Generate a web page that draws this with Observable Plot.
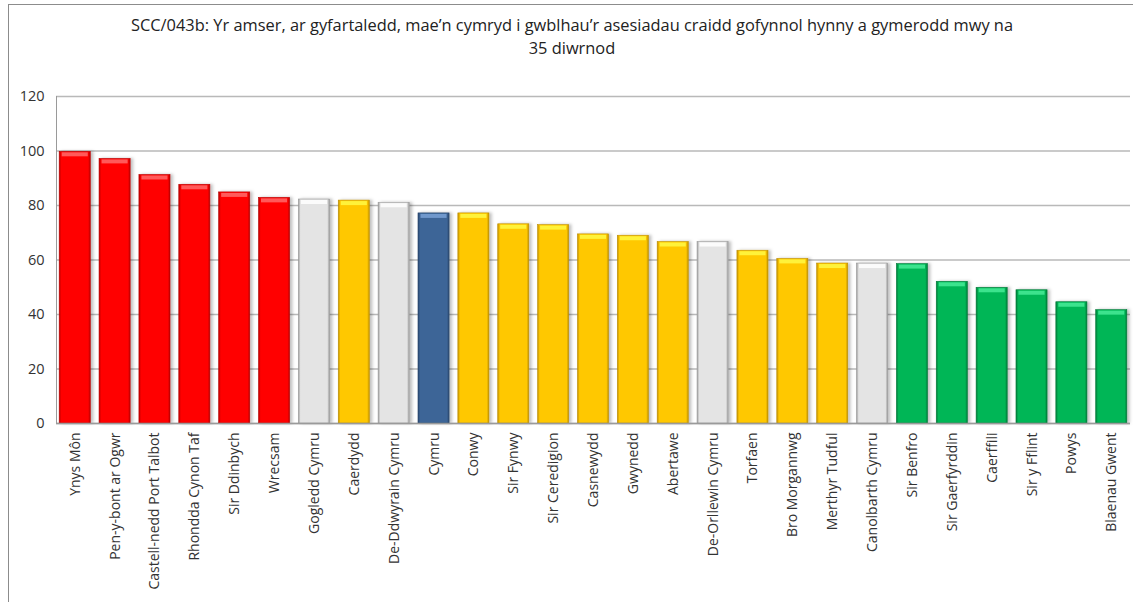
<!DOCTYPE html>
<html>
<head>
<meta charset="utf-8">
<script src="https://cdn.jsdelivr.net/npm/d3@7"></script>
<script src="https://cdn.jsdelivr.net/npm/@observablehq/plot@0.6"></script>
<style>
  html, body { margin: 0; padding: 0; background: #fff; overflow: hidden; }
  #wrap { position: relative; width: 1133px; height: 602px; }
  #frame { position: absolute; left: 8px; top: 4px; width: 1140px; height: 640px; border: 1px solid #8c8c8c; box-sizing: border-box; }
  #title { position: absolute; left: 0px; width: 1144px; top: 13px; text-align: center; font-family: "Open Sans", sans-serif; font-size: 16.4px; line-height: 23px; color: #222; white-space: nowrap; }
  #chart { position: absolute; left: 0; top: 0; }
</style>
</head>
<body>
<div id="wrap">
  <div id="frame"></div>
  <div id="title">SCC/043b: Yr amser, ar gyfartaledd, mae’n cymryd i gwblhau’r asesiadau craidd gofynnol hynny a gymerodd mwy na<br>35 diwrnod</div>
  <div id="chart"></div>
</div>
<script>
const categories = [
  "Ynys Môn", "Pen-y-bont ar Ogwr", "Castell-nedd Port Talbot", "Rhondda Cynon Taf",
  "Sir Ddinbych", "Wrecsam", "Gogledd Cymru", "Caerdydd", "De-Ddwyrain Cymru", "Cymru",
  "Conwy", "Sir Fynwy", "Sir Ceredigion", "Casnewydd", "Gwynedd", "Abertawe",
  "De-Orllewin Cymru", "Torfaen", "Bro Morgannwg", "Merthyr Tudful", "Canolbarth Cymru",
  "Sir Benfro", "Sir Gaerfyrddin", "Caerffili", "Sir y Fflint", "Powys", "Blaenau Gwent"
];
const values = [
  99.7, 97.1, 91.2, 87.6, 84.8, 82.8, 82.2, 81.8, 81.0, 77.1,
  77.1, 73.1, 72.8, 69.4, 68.9, 66.6, 66.6, 63.4, 60.4, 58.7,
  58.7, 58.5, 52.0, 49.8, 48.9, 44.5, 41.6
];
const groups = [
  "uchaf", "uchaf", "uchaf", "uchaf", "uchaf", "uchaf", "rhanbarth", "canol", "rhanbarth", "Cymru",
  "canol", "canol", "canol", "canol", "canol", "canol", "rhanbarth", "canol", "canol", "canol",
  "rhanbarth", "isaf", "isaf", "isaf", "isaf", "isaf", "isaf"
];
const yTicks = [0, 20, 40, 60, 80, 100, 120];

const data = categories.map((c, i) => ({ name: c, value: values[i], group: groups[i] }));

const palette = {
  uchaf:     { base: "#FF0000", edge: "#B80000", top: "#FF5A5A" },
  rhanbarth: { base: "#E4E4E4", edge: "#9A9A9A", top: "#FBFBFB" },
  canol:     { base: "#FFC800", edge: "#BF9000", top: "#FFF23A" },
  Cymru:     { base: "#3D6597", edge: "#2A476D", top: "#7098CC" },
  isaf:      { base: "#05B656", edge: "#027A39", top: "#3CE38D" }
};

const chart = Plot.plot({
  width: 1133,
  height: 602,
  marginLeft: 56,
  marginRight: 3,
  marginTop: 96,
  marginBottom: 179,
  style: { fontFamily: "'Open Sans', sans-serif", background: "transparent", overflow: "visible" },
  x: { domain: categories, paddingInner: 0.22, paddingOuter: 0.08, round: false, label: null },
  y: { domain: [0, 120], label: null },
  marks: [
    Plot.ruleY(yTicks, { stroke: "#b9b9b9", strokeWidth: 1.3 }),
    Plot.frame({ anchor: "left", stroke: "#9a9a9a" }),
    Plot.barY(data, {
      x: "name", y: "value",
      fill: { value: d => `url(#grad-${d.group})`, scale: null },
      stroke: { value: d => palette[d.group].edge, scale: null },
      strokeWidth: 0.6,
      className: "bars"
    }),
    Plot.tickY(data, {
      x: "name", y: "value",
      stroke: { value: d => palette[d.group].top, scale: null },
      strokeWidth: 4, dy: 2.5, inset: 2.5
    }),
    Plot.ruleY([0], { stroke: "#9a9a9a", strokeWidth: 1.3 }),
    Plot.axisY(yTicks, { tickSize: 0, tickPadding: 12, fontSize: 14.5, fill: "#333", label: null }),
    Plot.axisX({ tickSize: 0, tickPadding: 9, tickRotate: -90, fontSize: 14, fill: "#333", label: null })
  ]
});

const svg = d3.select(chart);
const defs = svg.insert("defs", ":first-child");
for (const [key, c] of Object.entries(palette)) {
  const g = defs.append("linearGradient").attr("id", `grad-${key}`).attr("x1", "0").attr("x2", "1").attr("y1", "0").attr("y2", "0");
  g.append("stop").attr("offset", "0%").attr("stop-color", c.edge);
  g.append("stop").attr("offset", "7%").attr("stop-color", c.base);
  g.append("stop").attr("offset", "93%").attr("stop-color", c.base);
  g.append("stop").attr("offset", "100%").attr("stop-color", c.edge);
}
const f = defs.append("filter").attr("id", "shadow").attr("x", "-20%").attr("y", "-5%").attr("width", "150%").attr("height", "110%");
f.append("feDropShadow").attr("dx", 2.5).attr("dy", 0).attr("stdDeviation", 1.5).attr("flood-color", "#000").attr("flood-opacity", 0.25);
svg.selectAll("g.bars").attr("filter", "url(#shadow)");

document.getElementById("chart").appendChild(chart);
</script>
</body>
</html>
